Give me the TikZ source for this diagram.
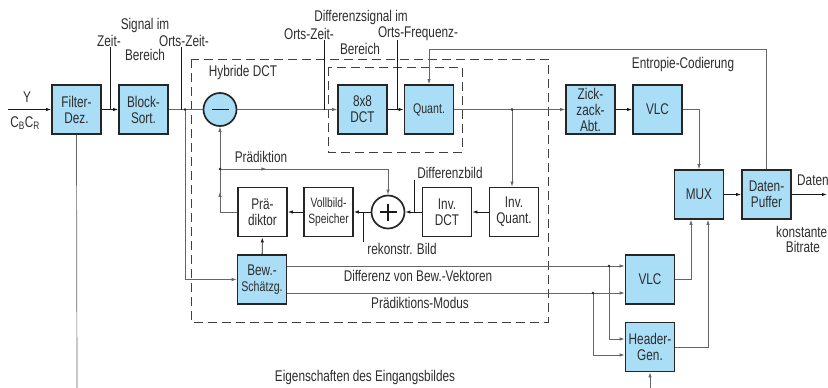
\documentclass[tikz,border=0pt]{standalone}
\usepackage{fontspec}
\setmainfont{Liberation Sans}[FakeStretch=0.76]
\usetikzlibrary{arrows.meta,calc,decorations.markings}
\definecolor{boxblue}{RGB}{170,221,246}
\definecolor{txt}{RGB}{45,45,45}
\begin{document}
\begin{tikzpicture}[x=1pt,y=-1pt,
  box/.style={draw=black!85, line width=1.7pt, fill=boxblue, minimum width=49pt, minimum height=49pt, inner sep=0pt, align=center, font=\fontsize{15.5}{16}\selectfont, text=txt},
  wbox/.style={box, fill=white},
  rnd/.style={circle, draw=black!85, line width=1.7pt, minimum size=33pt, inner sep=0pt},
  ln/.style={draw=black!60, line width=0.7pt},
  arr/.style={ln, -{Latex[length=5pt,width=3.4pt]}},
  barr/.style={draw=black!90, line width=0.9pt, -{Latex[length=5pt,width=3.4pt]}},
  tick/.style={draw=black!90, line width=0.6pt},
  lbl/.style={font=\fontsize{15.5}{16}\selectfont, text=txt, inner sep=0pt},
  dot/.style={circle, fill=black!85, inner sep=0pt, minimum size=2.6pt},
  dsh/.style={draw=black!75, line width=1pt, dash pattern=on 9pt off 5pt},
  midarr/.style={postaction={decorate}, decoration={markings, mark=at position #1 with {\arrow{Latex[length=5pt,width=3.4pt]}}}}
]
\useasboundingbox (0,0) rectangle (828,388);

% dashed frames
\draw[dsh] (191,59) rectangle (548,322);
\draw[dsh] (328,67) rectangle (462,152);

% boxes
\node[box] (filt) at (76.5,109.5) {Filter-\\Dez.};
\node[box] (sort) at (143.5,109.5) {Block-\\Sort.};
\node[rnd, fill=boxblue] (sub) at (220,109.5) {};
\draw[black!90, line width=1.8pt] ($(sub.center)+(-8.5,0)$) -- ($(sub.center)+(8.5,0)$);
\node[box] (dct) at (362.5,109.5) {8x8\\DCT};
\node[box, font=\fontsize{14}{15}\selectfont] (quant) at (429,109.5) {Quant.};
\node[box] (zz) at (590.5,109.5) {Zick-\\zack-\\Abt.};
\node[box] (vlc1) at (657.5,109.5) {VLC};
\node[box] (mux) at (699,194.5) {MUX};
\node[box] (puf) at (766.5,194.5) {Daten-\\Puffer};
\node[wbox] (pred) at (262.5,212) {Prä-\\diktor};
\node[wbox, font=\fontsize{13.5}{15.5}\selectfont] (voll) at (328.5,212) {Vollbild-\\Speicher};
\node[rnd, fill=white] (add) at (388,212) {};
\draw[black!90, line width=1.1pt] ($(add.center)+(-8.5,0)$) -- ($(add.center)+(8.5,0)$);
\draw[black!90, line width=1.1pt] ($(add.center)+(0,-8.5)$) -- ($(add.center)+(0,8.5)$);
\node[wbox] (idct) at (447,212) {Inv.\\DCT};
\node[wbox] (iq) at (514,212) {Inv.\\Quant.};
\node[box] (bew) at (262,279.5) {Bew.-\\{\fontsize{14}{15}\selectfont Schätzg.}};
\node[box] (vlc2) at (650,279.5) {VLC};
\node[box] (hdr) at (650,347) {Header-\\Gen.};

% coordinates
\coordinate (in) at (8,109.5);
\coordinate (out) at (827,194.5);
\coordinate (d1) at (185,109.5);
\coordinate (d2) at (512,109.5);
\coordinate (d3) at (220,169);
\coordinate (d4) at (609,266);
\coordinate (d5) at (593,293);
\coordinate (bot1) at (77,388);
\coordinate (bot2) at (650,388);

% connectors
\draw[barr] (in) -- (filt);
\draw[barr] (filt) -- (sort);
\draw[ln] (sort) -- (sub);
\draw[arr] (d1) |- (bew);
\draw[arr] (sub) -- (dct);
\draw[barr] (dct) -- (quant);
\draw[arr] (quant) -- (zz);
\draw[arr] (d2) -- (d2 |- iq.north);
\draw[barr] (zz) -- (vlc1);
\draw[arr] (vlc1.east) -| (mux.north);
\draw[barr] (mux) -- (puf);
\draw[barr] (puf) -- (out);
\draw[arr] (puf.north) -- ++(0,-120) -| (quant.north);
\draw[ln, midarr=0.62] (pred.west) -| (d3);
\draw[arr] (d3) -- (sub.south);
\draw[arr, midarr=0.24] (d3) -| (add.north);
\draw[barr] (iq) -- (idct);
\draw[barr] (idct) -- (add);
\draw[barr] (add) -- (voll);
\draw[barr] (voll) -- (pred);
\draw[barr] (bew) -- (pred);
\draw[arr] ($(bew.east)+(0,-13.5)$) -- ($(vlc2.west)+(0,-13.5)$);
\draw[arr] ($(bew.east)+(0,13.5)$) -- ($(vlc2.west)+(0,13.5)$);
\draw[arr] (d4) |- ($(hdr.west)+(0,-8)$);
\draw[arr] (d5) |- ($(hdr.west)+(0,8)$);
\draw[arr] (vlc2.east) -| ($(mux.south)+(-8,0)$);
\draw[arr] (hdr.east) -| ($(mux.south)+(9,0)$);
\draw[arr] (bot2) -- (hdr.south);
\draw[ln] (filt.south) -- (bot1);

% dots
\foreach \d in {d1,d2,d3,d4,d5} \node[dot] at (\d) {};

% label ticks
\draw[tick] (110,47) -- (110,109.5);
\draw[tick] (181,47) -- (181,109.5);
\draw[tick] (324,40) -- (324,109.5);
\draw[tick] (397,40) -- (397,109.5);
\draw[tick] (414,180) -- (414,212);
\draw[tick] (363,212) -- (363,242);

% labels
\node[lbl] (ly) at (27,97) {Y};
\node[lbl] (lcb) at (25,123) {C\textsubscript{B}C\textsubscript{R}};
\node[lbl, anchor=east] (lzeit) at (121,41) {Zeit-};
\node[lbl] (lsig) at (145,25) {Signal im};
\node[lbl] (lber1) at (145,55) {Bereich};
\node[lbl] (lortz1) at (184,41) {Orts-Zeit-};
\node[lbl] (lhyb) at (243,72) {Hybride DCT};
\node[lbl] (ldiff) at (361,17) {Differenzsignal im};
\node[lbl] (lortz2) at (309,34) {Orts-Zeit-};
\node[lbl] (lber2) at (360,49) {Bereich};
\node[lbl] (lortf) at (418,34) {Orts-Frequenz-};
\node[lbl] (lent) at (683,64) {Entropie-Codierung};
\node[lbl] (lpraed) at (261,157) {Prädiktion};
\node[lbl] (ldb) at (450,173) {Differenzbild};
\node[lbl] (lrek) at (402,249) {rekonstr. Bild};
\node[lbl, anchor=west] (ldat) at (797,180) {Daten};
\node[lbl, anchor=west] (lkon) at (776,232) {konstante};
\node[lbl] (lbit) at (803,247) {Bitrate};
\node[lbl] (lbv) at (418,276) {Differenz von Bew.-Vektoren};
\node[lbl] (lpm) at (420,303) {Prädiktions-Modus};
\node[lbl] (leig) at (365,377) {Eigenschaften des Eingangsbildes};
\end{tikzpicture}
\end{document}
